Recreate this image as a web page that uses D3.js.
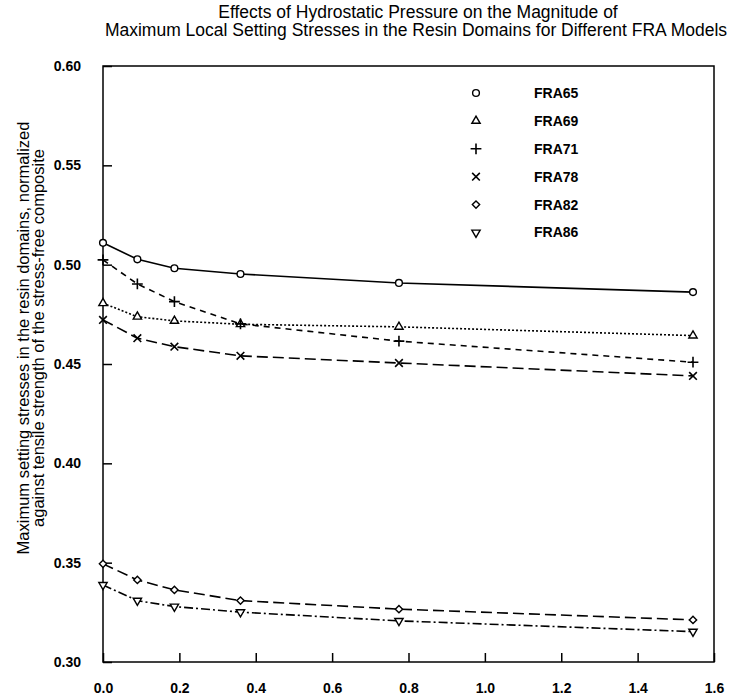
<!DOCTYPE html>
<html>
<head>
    <script src="https://d3js.org/d3.v7.min.js"></script>
    <style>
        body { margin: 0; background: white; }
        text { font-family: "Liberation Sans", Arial, sans-serif; fill: black; }
    </style>
</head>
<body>
<div id="chart"></div>
<script>
    // pressure values (x) shared by every model
    var pressure = [0, 0.09, 0.187, 0.36, 0.775, 1.545];

    var names = ["FRA65", "FRA69", "FRA71", "FRA78", "FRA82", "FRA86"];
    var fra65 = [0.511, 0.5027, 0.4982, 0.4953, 0.4908, 0.4862];
    var fra69 = [0.4806, 0.4738, 0.4717, 0.4700, 0.4687, 0.4643];
    var fra71 = [0.5024, 0.4903, 0.4814, 0.4702, 0.4615, 0.4509];
    var fra78 = [0.4722, 0.4630, 0.4587, 0.4541, 0.4505, 0.4440];
    var fra82 = [0.3494, 0.3413, 0.3363, 0.3309, 0.3266, 0.3212];
    var fra86 = [0.3388, 0.3309, 0.3279, 0.3251, 0.3207, 0.3153];

    var xTicks = [0.0, 0.2, 0.4, 0.6, 0.8, 1.0, 1.2, 1.4, 1.6];
    var yTicks = [0.30, 0.35, 0.40, 0.45, 0.50, 0.55, 0.60];

    var series = [fra65, fra69, fra71, fra78, fra82, fra86];
    var dashes = ["none", "2,2", "6,5", "11,5", "11,5", "9,3,2,3"];
    var symbols = [d3.symbolCircle, d3.symbolTriangle, d3.symbolPlus, d3.symbolTimes, d3.symbolDiamond2, d3.symbolTriangle];
    var sizes = [36, 30, 40, 40, 34, 30];

    var W = 739, H = 696;
    var margin = { top: 66, right: 25, bottom: 34, left: 103 };
    var width = W - margin.left - margin.right;
    var height = H - margin.top - margin.bottom;

    var svg = d3.select("#chart").append("svg")
        .attr("width", W).attr("height", H);

    var g = svg.append("g")
        .attr("transform", "translate(" + margin.left + "," + margin.top + ")");

    var xs = d3.scaleLinear().domain([0, 1.6]).range([0, width]);
    var ys = d3.scaleLinear().domain([0.30, 0.60]).range([height, 0]);

    // title
    svg.append("text").attr("x", 418).attr("y", 18).attr("text-anchor", "middle")
        .style("font-size", "17.5px")
        .text("Effects of Hydrostatic Pressure on the Magnitude of");
    svg.append("text").attr("x", 416).attr("y", 36).attr("text-anchor", "middle")
        .style("font-size", "17.5px")
        .text("Maximum Local Setting Stresses in the Resin Domains for Different FRA Models");

    // frame
    g.append("rect").attr("width", width).attr("height", height)
        .attr("fill", "none").attr("stroke", "black").attr("stroke-width", 1.5);

    // axes, ticks drawn inward
    var xAxis = d3.axisBottom(xs).tickValues(xTicks).tickFormat(d3.format(".1f")).tickSizeInner(-9).tickSizeOuter(0).tickPadding(21);
    var gx = g.append("g").attr("transform", "translate(0," + height + ")").call(xAxis);
    var yAxis = d3.axisLeft(ys).tickValues(yTicks).tickFormat(d3.format(".2f")).tickSizeInner(-9).tickSizeOuter(0).tickPadding(22);
    var gy = g.append("g").call(yAxis);

    [gx, gy].forEach(function (a) {
        a.select(".domain").remove();
        a.selectAll("line").attr("stroke", "black").attr("stroke-width", 1.5);
        a.selectAll("text").style("font-size", "14px").style("font-weight", "bold")
            .style("font-family", "'Liberation Sans', Arial, sans-serif");
    });

    // y label
    var yl = svg.append("text").attr("transform", "translate(29,338) rotate(-90)")
        .attr("text-anchor", "middle").style("font-size", "16.5px");
    yl.append("tspan").attr("x", 0).attr("dy", 0).text("Maximum setting stresses in the resin domains, normalized");
    yl.append("tspan").attr("x", 0).attr("dy", 15).text("against tensile strength of the stress-free composite");

    // lines and markers
    var line = d3.line().x(function (d) { return xs(d[0]); }).y(function (d) { return ys(d[1]); });

    function marker(sel, i) {
        var stroked = (i == 2 || i == 3);
        sel.attr("d", d3.symbol().type(symbols[i]).size(sizes[i]))
            .attr("fill", stroked ? "none" : "white")
            .attr("stroke", "black")
            .attr("stroke-width", stroked ? 1.6 : 1.4);
    }

    series.forEach(function (vals, i) {
        var pts = pressure.map(function (p, j) { return [p, vals[j]]; });
        g.append("path").datum(pts)
            .attr("d", line)
            .attr("fill", "none")
            .attr("stroke", "black")
            .attr("stroke-width", 1.6)
            .attr("stroke-dasharray", dashes[i]);

        g.selectAll(".m" + i).data(pts).enter().append("path")
            .attr("class", "m" + i)
            .call(marker, i)
            .attr("transform", function (d) {
                return "translate(" + xs(d[0]) + "," + ys(d[1]) + ")" + (i == 5 ? " rotate(180)" : "");
            });
    });

    // legend
    var lx = 373, ly = 27, lstep = 27.9;
    names.forEach(function (n, i) {
        var row = g.append("g").attr("transform", "translate(0," + (ly + i * lstep) + ")");
        row.append("path")
            .call(marker, i)
            .attr("transform", "translate(" + lx + ",0)" + (i == 5 ? " rotate(180)" : ""));
        row.append("text").attr("x", lx + 58).attr("y", 0).attr("dy", "0.35em")
            .style("font-size", "14px").style("font-weight", "bold").text(n);
    });
</script>
</body>
</html>
